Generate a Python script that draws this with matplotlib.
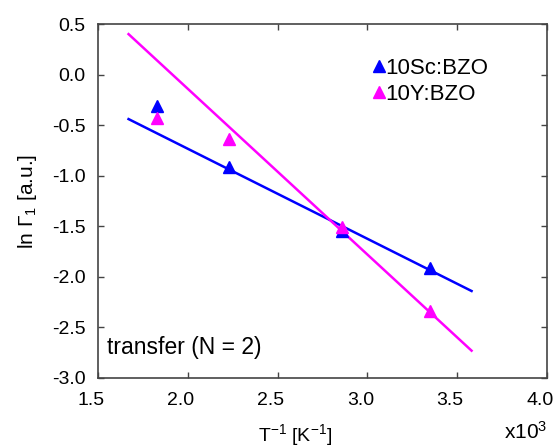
import numpy as np
import matplotlib.pyplot as plt
from matplotlib.transforms import ScaledTranslation

plt.rcParams['font.family'] = ['Liberation Sans', 'DejaVu Sans']
plt.rcParams['mathtext.default'] = 'regular'
plt.rcParams['axes.unicode_minus'] = False

# datos: T^-1 (x10^3 K^-1) y ln Gamma_1
inv_T = [1.83, 2.23, 2.86, 3.35]
sc_bzo = [-0.31, -0.91, -1.55, -1.91]
y_bzo = [-0.43, -0.64, -1.51, -2.34]

# rectas de ajuste (extremos)
fit_x = [1.67, 3.58]
fit_sc = [-0.44, -2.14]
fit_y = [0.40, -2.73]

fig = plt.figure(figsize=(5.56, 4.48), dpi=100)
ax = fig.add_axes([0.1763, 0.1563, 0.8075, 0.7901])

ax.plot(fit_x, fit_sc, color='blue', lw=1.8)
ax.plot(fit_x, fit_y, color='magenta', lw=1.8)
ax.plot(inv_T, sc_bzo, '^', color='blue', ms=9, label='10Sc:BZO')
ax.plot(inv_T, y_bzo, '^', color='magenta', ms=9, label='10Y:BZO')

ax.set_xlim(1.5, 4.0)
ax.set_ylim(-3.0, 0.5)
ax.set_xticks(np.arange(1.5, 4.01, 0.5))
ax.set_yticks(np.arange(-3.0, 0.51, 0.5))
ax.xaxis.set_major_formatter(plt.FormatStrFormatter('%.1f'))
ax.yaxis.set_major_formatter(plt.FormatStrFormatter('%.1f'))
ax.tick_params(direction='in', top=True, right=True, length=4, width=1,
               color='#444444', labelsize=14)
ax.tick_params(axis='x', pad=10)
ax.tick_params(axis='y', pad=9)
for s in ax.spines.values():
    s.set_color('#444444')
    s.set_linewidth(1.2)

# las etiquetas del eje x estan corridas a la izquierda en el original
shift = ScaledTranslation(-7 / 100, 0, fig.dpi_scale_trans)
for lab in ax.get_xticklabels():
    lab.set_transform(lab.get_transform() + shift)

ax.set_xlabel('T$^{-1}$ [K$^{-1}$]', fontsize=14)
ax.xaxis.set_label_coords(0.44, -0.125)
ax.set_ylabel('ln Γ$_1$ [a.u.]', fontsize=15, labelpad=9)
ax.text(1.0, -0.12, 'x10$^3$', transform=ax.transAxes, ha='right', va='top', fontsize=15)
ax.text(0.02, 0.068, 'transfer (N = 2)', transform=ax.transAxes, fontsize=16.5, va='baseline')

ax.legend(loc='upper left', bbox_to_anchor=(0.61, 0.905), frameon=False, fontsize=16,
          handlelength=0.6, handletextpad=0.0, borderpad=0, borderaxespad=0,
          labelspacing=0.25, markerscale=0.9)

fig.savefig('out.png', dpi=100)
